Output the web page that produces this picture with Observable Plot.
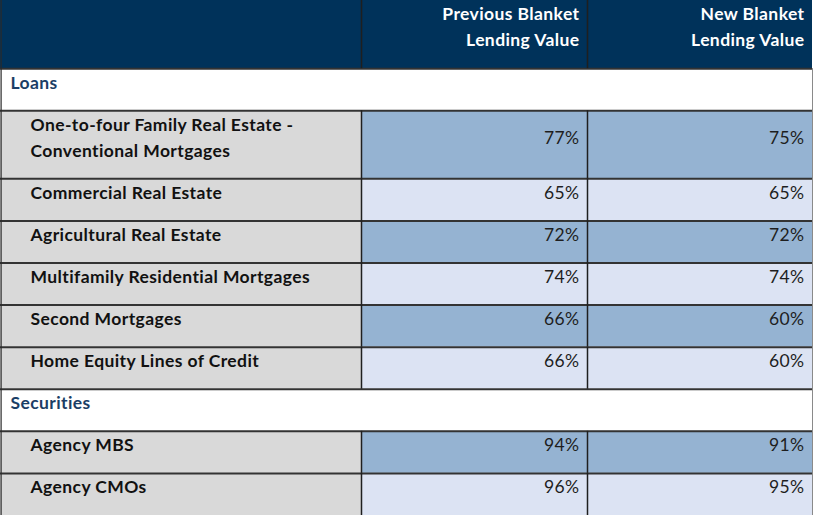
<!DOCTYPE html>
<html><head><meta charset="utf-8">
<script src="https://cdn.jsdelivr.net/npm/d3@7"></script>
<script src="https://cdn.jsdelivr.net/npm/@observablehq/plot@0.6"></script>
<style>
html,body{margin:0;padding:0;background:#fff;}
#chart svg{display:block;}
</style></head><body><div id="chart"></div>
<script>
// ---- data ----
const columnHeaders = ["Previous Blanket\nLending Value", "New Blanket\nLending Value"];
const sections = ["Loans", "Securities"];
const loanCategories = [
  "One-to-four Family Real Estate -\nConventional Mortgages",
  "Commercial Real Estate",
  "Agricultural Real Estate",
  "Multifamily Residential Mortgages",
  "Second Mortgages",
  "Home Equity Lines of Credit"
];
const loanPrevious = [77, 65, 72, 74, 66, 66];
const loanNew = [75, 65, 72, 74, 60, 60];
const securityCategories = ["Agency MBS", "Agency CMOs"];
const securityPrevious = [94, 96];
const securityNew = [91, 95];

// ---- layout ----
const W = 814, H = 515;
const colEdges = [0, 361, 587, 812];
const LINE_PX = 26;
const rowHeight = lines => 16 + LINE_PX * lines;
const nLines = s => s.split("\n").length;
const FONT = 17.5, LH = LINE_PX / FONT;
const BASE = 20;                       // baseline offset from row top
const TOP = BASE - 0.71 * LINE_PX;     // Plot's lineAnchor "top" offset
const navy = "#00325A", gray = "#D9D9D9", dark = "#95B3D2", light = "#DCE3F3", sectionInk = "#1B3E66";

const groups = [
  {section: sections[0], cats: loanCategories, prev: loanPrevious, next: loanNew},
  {section: sections[1], cats: securityCategories, prev: securityPrevious, next: securityNew}
];
const rows = [{kind: "header", lines: nLines(columnHeaders[0])}];
for (const g of groups) {
  rows.push({kind: "section", label: g.section, lines: 1});
  g.cats.forEach((c, i) => rows.push({kind: "item", label: c, lines: nLines(c), values: [g.prev[i], g.next[i]], shade: i % 2 === 0 ? dark : light}));
}
let acc = 0;
for (const r of rows) { r.y1 = acc; acc += rowHeight(r.lines); r.y2 = acc; }
const total = acc;

const cells = [];
const texts = [];
for (const r of rows) {
  if (r.kind === "header") {
    cells.push({x1: colEdges[0], x2: colEdges[3], y1: r.y1, y2: r.y2, fill: navy});
    columnHeaders.forEach((h, c) => texts.push({x: colEdges[c + 2] - 8, y: r.y1 + TOP, text: h, anchor: "end", fill: "#ffffff", weight: "bold"}));
  } else if (r.kind === "section") {
    cells.push({x1: colEdges[0], x2: colEdges[3], y1: r.y1, y2: r.y2, fill: "#ffffff"});
    texts.push({x: colEdges[0] + 10, y: r.y1 + TOP, text: r.label, anchor: "start", fill: sectionInk, weight: "bold"});
  } else {
    cells.push({x1: colEdges[0], x2: colEdges[1], y1: r.y1, y2: r.y2, fill: gray});
    texts.push({x: colEdges[0] + 30, y: r.y1 + TOP, text: r.label, anchor: "start", fill: "#111111", weight: "bold"});
    r.values.forEach((v, c) => {
      cells.push({x1: colEdges[c + 1], x2: colEdges[c + 2], y1: r.y1, y2: r.y2, fill: r.shade});
      texts.push({x: colEdges[c + 2] - 8, y: r.y1 + TOP + (r.lines - 1) * LINE_PX / 2, text: `${v}%`, anchor: "end", fill: "#1e1e1e", weight: "normal"});
    });
  }
}
const hRules = rows.slice(1).map(r => ({y: r.y1}));
const vRules = [];
for (const r of rows) if (r.kind !== "section") for (const x of [colEdges[1], colEdges[2]]) vRules.push({x, y1: r.y1, y2: r.y2});

const textMark = (data) => [
  Plot.text(data.filter(d => d.anchor === "start" && d.weight === "bold"), {x: "x", y: "y", text: "text", fill: "fill", textAnchor: "start", lineAnchor: "top", fontWeight: "bold", fontSize: FONT, lineHeight: LH}),
  Plot.text(data.filter(d => d.anchor === "end" && d.weight === "bold"), {x: "x", y: "y", text: "text", fill: "fill", textAnchor: "end", lineAnchor: "top", fontWeight: "bold", fontSize: FONT, lineHeight: LH}),
  Plot.text(data.filter(d => d.weight === "normal"), {x: "x", y: "y", text: "text", fill: "fill", textAnchor: "end", lineAnchor: "top", fontSize: FONT, lineHeight: LH})
];

const chart = Plot.plot({
  width: W, height: H, margin: 0,
  style: {fontFamily: "Lato, 'Open Sans', sans-serif", background: "#ffffff", letterSpacing: "0.4px"},
  x: {domain: [0, W], range: [0, W], axis: null},
  y: {domain: [0, total], range: [0, H], axis: null},
  marks: [
    Plot.rect(cells, {x1: "x1", x2: "x2", y1: "y1", y2: "y2", fill: d => d.fill}),
    Plot.ruleY(hRules, {y: "y", x1: 0, x2: colEdges[3], stroke: "#333333", strokeWidth: 2}),
    Plot.ruleX(vRules, {x: "x", y1: "y1", y2: "y2", stroke: "#1f1f1f", strokeWidth: 1.5}),
    Plot.ruleX([0.6], {stroke: "#2a2a2a", strokeWidth: 1.2}),
    Plot.ruleX([colEdges[3]], {y1: rows[1].y1, y2: total, stroke: "#8a8a8a", strokeWidth: 1}),
    ...textMark(texts)
  ]
});
document.getElementById("chart").appendChild(chart);
</script>
</body></html>
